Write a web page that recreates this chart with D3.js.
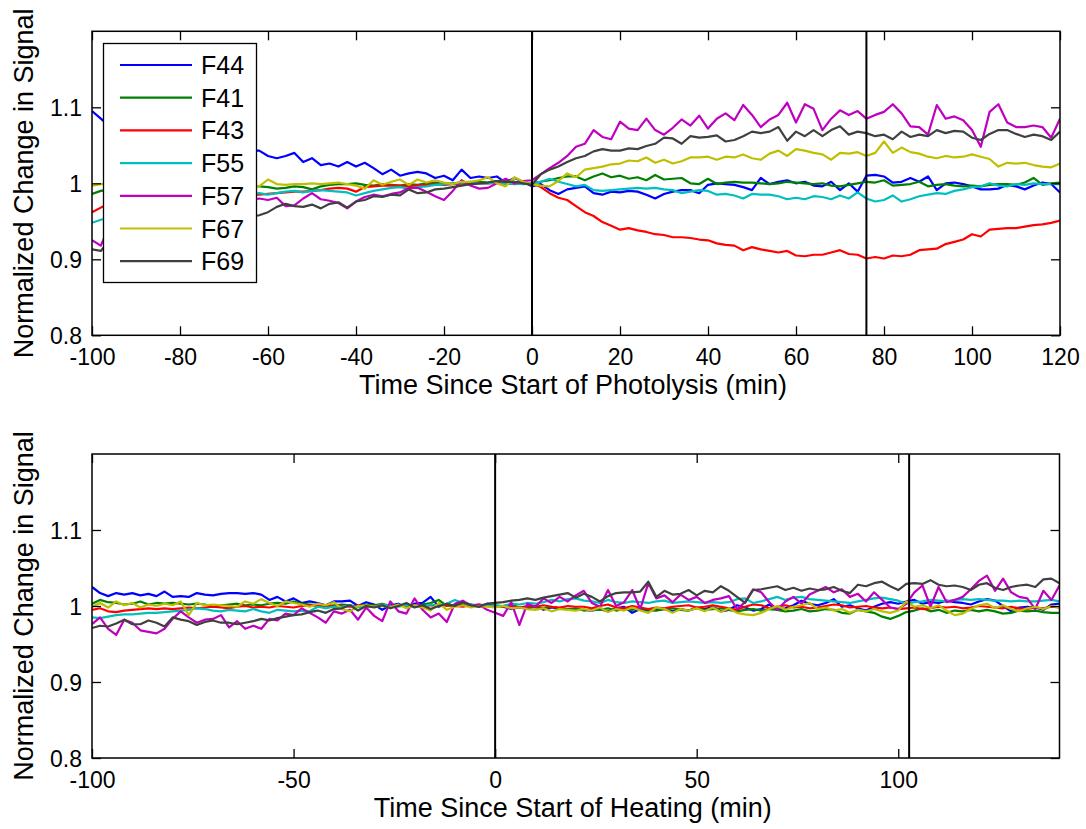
<!DOCTYPE html>
<html>
<head>
<meta charset="utf-8">
<script src="https://cdn.jsdelivr.net/npm/d3@7"></script>
<style>
  html, body { margin: 0; padding: 0; background: #fff; }
  svg { display: block; }
  text { font-family: "Liberation Sans", Arial, Helvetica, sans-serif; fill: #000; }
</style>
</head>
<body>
<svg id="chart" width="1086" height="829"></svg>
<script>
// ---------------- data ----------------
const seriesNames = ["F44", "F41", "F43", "F55", "F57", "F67", "F69"];
const seriesColors = ["#0000ff", "#008000", "#ff0000", "#00bfbf", "#bf00bf", "#bfbf00", "#404040"];

// top panel: sample times -100 .. 120 every 2 min
const timeTop = d3.range(-100, 121, 2);
// bottom panel: sample times -100 .. 140 every 2 min
const timeBottom = d3.range(-100, 141, 2);

const xTicksTop = [-100, -80, -60, -40, -20, 0, 20, 40, 60, 80, 100, 120];
const xTicksBottom = [-100, -50, 0, 50, 100];
const yTicks = [0.8, 0.9, 1.0, 1.1];
const yTickLabels = ["0.8", "0.9", "1", "1.1"];
const eventsTop = [0, 76];
const eventsBottom = [0, 102.7];

const F44_top = [1.095,1.085,1.075,1.070,1.066,1.062,1.060,1.057,1.055,1.053,1.052,1.050,1.049,1.048,1.047,1.046,1.045,1.044,1.043,1.043,1.036,1.033,1.036,1.040,1.028,1.033,1.024,1.026,1.022,1.028,1.022,1.027,1.020,1.012,1.018,1.010,1.013,1.015,1.013,1.007,1.010,1.004,1.018,1.007,1.009,1.007,1.009,1.001,1.007,1.002,0.996,0.999,0.991,0.986,0.992,0.994,0.996,0.987,0.985,0.989,0.988,0.990,0.989,0.985,0.980,0.986,0.989,0.991,0.991,0.987,0.998,1.000,0.999,0.998,0.995,0.991,1.007,0.999,1.002,1.004,1.000,1.002,0.997,0.996,1.002,0.991,1.000,0.989,1.010,1.011,1.009,1.001,1.002,1.007,1.002,1.009,0.991,1.000,1.001,0.999,0.996,0.992,0.992,0.993,0.998,0.996,0.992,0.997,1.001,0.999,0.988];
const F41_top = [0.986,0.990,0.992,0.993,0.992,0.994,0.993,0.995,0.994,0.995,0.994,0.996,0.995,0.996,0.995,0.996,0.995,0.996,0.996,0.996,0.995,0.993,0.994,0.996,0.995,0.992,0.996,0.998,0.999,0.999,1.000,0.998,0.997,0.999,0.998,0.997,0.999,0.998,1.000,1.001,0.999,1.000,1.001,1.000,1.002,1.001,1.003,1.004,1.002,1.001,1.000,1.002,1.004,1.007,1.009,1.009,1.004,1.009,1.013,1.008,1.010,1.006,1.008,1.004,1.011,1.005,1.006,1.007,1.000,0.999,1.006,0.999,1.001,1.002,1.001,1.001,1.000,0.999,1.000,1.002,1.001,1.000,0.999,1.000,0.997,0.996,0.998,1.000,1.002,1.001,1.004,0.997,0.998,0.999,1.002,0.996,0.998,0.999,0.997,0.996,0.997,0.996,0.998,0.999,0.999,0.998,1.001,1.007,0.998,1.000,1.001];
const F43_top = [0.962,0.968,0.974,0.976,0.978,0.979,0.980,0.981,0.982,0.982,0.983,0.983,0.984,0.984,0.985,0.985,0.985,0.985,0.985,0.985,0.986,0.987,0.988,0.989,0.989,0.990,0.991,0.993,0.994,0.993,0.989,0.995,0.996,0.997,0.997,0.997,0.996,0.997,0.998,0.999,0.998,0.999,1.000,0.999,1.000,1.000,1.001,1.000,0.999,1.000,1.000,0.995,0.987,0.981,0.978,0.970,0.962,0.957,0.949,0.944,0.939,0.941,0.938,0.936,0.933,0.932,0.929,0.929,0.928,0.926,0.925,0.921,0.919,0.918,0.912,0.916,0.913,0.911,0.909,0.911,0.905,0.904,0.906,0.906,0.909,0.912,0.907,0.906,0.901,0.903,0.901,0.905,0.904,0.906,0.912,0.913,0.914,0.920,0.923,0.926,0.933,0.930,0.939,0.940,0.941,0.941,0.943,0.945,0.946,0.948,0.951];
const F55_top = [0.948,0.952,0.955,0.958,0.960,0.963,0.965,0.967,0.969,0.970,0.972,0.974,0.975,0.977,0.978,0.980,0.982,0.984,0.986,0.987,0.985,0.987,0.989,0.990,0.988,0.990,0.991,0.990,0.989,0.988,0.984,0.987,0.990,0.992,0.994,0.995,0.993,0.995,0.996,0.998,0.999,1.000,1.001,1.002,1.000,1.000,1.001,0.999,1.000,0.999,1.000,1.002,1.006,1.002,0.999,0.996,0.998,0.991,0.990,0.991,0.992,0.993,0.994,0.993,0.994,0.992,0.991,0.987,0.989,0.991,0.990,0.985,0.986,0.984,0.980,0.986,0.985,0.985,0.983,0.979,0.981,0.979,0.983,0.982,0.979,0.984,0.980,0.988,0.980,0.976,0.978,0.984,0.976,0.979,0.983,0.985,0.987,0.986,0.990,0.992,0.995,0.996,1.000,0.997,0.996,0.999,0.998,1.000,0.999,0.999,0.999];
const F57_top = [0.925,0.918,0.945,0.948,0.952,0.955,0.957,0.960,0.962,0.963,0.965,0.967,0.968,0.970,0.972,0.973,0.974,0.976,0.978,0.980,0.978,0.981,0.970,0.971,0.980,0.987,0.979,0.977,0.974,0.967,0.976,0.982,0.985,0.983,0.986,0.988,0.994,0.994,0.989,0.983,0.978,0.990,1.004,0.997,0.993,0.994,1.000,1.006,1.000,1.003,1.004,1.012,1.020,1.027,1.036,1.048,1.052,1.070,1.061,1.058,1.081,1.072,1.070,1.085,1.070,1.064,1.073,1.084,1.076,1.089,1.072,1.085,1.092,1.083,1.103,1.090,1.074,1.084,1.090,1.106,1.080,1.104,1.098,1.070,1.085,1.096,1.090,1.095,1.085,1.090,1.094,1.104,1.092,1.075,1.074,1.064,1.103,1.085,1.088,1.083,1.070,1.048,1.094,1.104,1.080,1.074,1.074,1.076,1.074,1.060,1.085];
const F67_top = [0.997,0.999,1.000,1.001,1.000,0.999,1.000,1.001,1.000,0.999,1.000,1.001,1.000,0.999,1.000,1.001,1.000,0.999,0.998,0.996,1.005,0.999,0.998,0.999,0.999,1.000,0.999,1.000,1.001,0.999,0.997,0.993,1.004,0.998,1.002,1.005,0.998,1.005,1.001,1.004,1.001,0.999,1.002,1.002,1.004,1.008,1.000,0.996,1.008,1.002,0.999,0.997,0.996,1.003,1.013,1.008,1.018,1.020,1.022,1.025,1.026,1.030,1.029,1.034,1.027,1.031,1.026,1.029,1.034,1.034,1.035,1.031,1.035,1.034,1.038,1.033,1.031,1.039,1.043,1.036,1.045,1.043,1.040,1.038,1.031,1.040,1.039,1.041,1.036,1.040,1.055,1.040,1.047,1.041,1.039,1.035,1.033,1.036,1.034,1.035,1.038,1.035,1.032,1.022,1.027,1.026,1.027,1.024,1.022,1.021,1.026];
const F69_top = [0.913,0.911,0.925,0.930,0.933,0.935,0.937,0.939,0.941,0.942,0.944,0.945,0.947,0.948,0.950,0.951,0.952,0.954,0.956,0.958,0.962,0.969,0.973,0.970,0.969,0.972,0.967,0.973,0.975,0.968,0.976,0.978,0.983,0.982,0.985,0.984,0.992,0.987,0.988,0.992,0.993,0.995,0.997,0.999,1.000,1.001,1.003,1.002,1.002,1.000,0.998,1.012,1.018,1.022,1.028,1.033,1.036,1.042,1.045,1.043,1.043,1.046,1.045,1.049,1.052,1.060,1.059,1.052,1.062,1.060,1.061,1.063,1.055,1.057,1.062,1.068,1.066,1.068,1.074,1.056,1.068,1.062,1.070,1.062,1.070,1.075,1.064,1.068,1.066,1.062,1.064,1.058,1.068,1.061,1.064,1.062,1.070,1.066,1.069,1.068,1.060,1.057,1.065,1.070,1.070,1.065,1.061,1.064,1.062,1.057,1.068];

const F44_bot = [1.025,1.017,1.013,1.017,1.015,1.017,1.014,1.016,1.013,1.019,1.012,1.013,1.012,1.017,1.015,1.014,1.016,1.017,1.017,1.016,1.017,1.015,1.008,1.012,1.006,1.010,1.004,1.006,1.004,1.001,1.006,1.006,1.007,1.000,1.005,1.002,0.995,1.001,1.003,0.998,1.003,1.004,1.012,0.999,1.003,1.000,1.005,1.002,0.999,1.003,1.000,0.999,0.996,0.998,0.996,1.000,0.995,0.998,0.997,0.996,0.995,0.995,0.994,0.996,0.993,0.997,0.999,0.991,0.996,0.994,0.995,0.996,0.993,0.996,0.994,0.998,0.996,0.999,0.993,0.995,1.001,0.998,0.994,0.996,1.002,0.995,0.997,1.001,1.007,1.003,1.001,1.004,1.009,0.999,1.001,0.997,0.994,0.999,1.003,1.005,1.003,1.006,1.008,1.003,1.005,1.004,1.007,1.005,1.004,1.002,1.006,1.009,1.007,1.000,0.993,0.998,0.999,0.998,0.995,1.002,1.003];
const F41_bot = [1.003,1.008,1.005,1.004,1.002,1.003,1.006,1.002,1.004,1.003,1.004,1.003,1.002,1.003,1.002,0.999,1.001,1.002,1.003,1.001,1.002,1.001,1.003,1.004,1.003,1.006,1.003,1.002,1.001,1.000,1.001,1.002,1.001,0.999,1.002,1.001,1.003,1.000,1.001,1.000,0.999,1.002,1.004,1.008,1.000,1.001,1.003,1.001,0.999,1.001,1.000,1.000,1.002,0.998,0.999,0.998,0.997,0.999,0.997,0.996,0.997,0.994,0.996,0.995,0.997,0.994,0.996,0.995,0.997,0.995,0.994,0.996,0.997,0.995,0.994,0.997,0.995,0.996,0.997,0.995,0.993,0.995,0.996,0.994,0.996,0.995,0.993,0.994,0.996,0.993,0.994,0.996,0.995,0.991,0.990,0.995,0.993,0.991,0.986,0.983,0.987,0.992,0.994,0.997,0.993,0.995,0.991,0.994,0.993,0.995,0.993,0.995,0.993,0.990,0.991,0.994,0.993,0.994,0.992,0.991,0.991];
const F43_bot = [0.995,0.997,0.993,0.992,0.994,0.995,0.996,0.997,0.996,0.997,0.996,0.997,0.998,0.997,0.998,0.999,0.998,0.997,0.999,1.000,0.998,0.999,0.998,1.000,0.999,0.998,1.000,1.001,1.000,1.001,0.999,1.000,0.999,1.001,0.999,1.000,1.001,0.999,1.000,1.002,1.000,0.999,1.001,1.000,1.001,1.000,0.999,1.001,1.002,1.001,1.001,0.999,1.000,0.998,1.000,0.999,1.001,0.999,0.998,1.000,0.999,0.999,0.997,1.000,1.002,0.998,0.997,1.000,0.998,0.996,0.998,0.997,0.999,1.000,1.001,0.998,0.999,1.001,0.999,0.997,0.995,0.999,1.002,1.001,0.997,0.999,1.001,0.998,0.999,0.997,0.998,1.000,1.002,1.001,0.998,0.999,1.000,0.998,0.997,0.998,0.996,0.997,0.998,0.996,0.997,0.999,0.998,0.999,0.997,0.998,1.000,0.999,0.998,0.997,0.999,0.997,0.996,0.998,0.997,0.999,0.998];
const F55_bot = [0.985,0.984,0.986,0.988,0.989,0.989,0.990,0.991,0.991,0.992,0.993,0.994,0.995,0.997,0.996,0.994,0.993,0.995,0.994,0.993,0.996,0.993,0.991,0.995,0.994,0.993,0.994,0.993,0.999,0.997,0.999,0.999,1.001,0.998,1.000,0.999,1.002,1.000,0.999,1.001,1.000,0.999,1.002,1.001,1.003,1.008,1.004,1.002,1.001,1.000,1.001,1.000,1.003,1.002,1.004,1.003,1.005,1.008,1.006,1.009,1.010,1.007,1.006,1.004,1.008,1.005,1.004,1.006,1.005,1.004,1.006,1.007,1.004,1.005,1.006,1.005,1.004,1.005,1.004,1.005,1.009,1.010,1.004,1.006,1.009,1.012,1.008,1.011,1.012,1.009,1.008,1.007,1.006,1.005,1.004,1.006,1.008,1.010,1.011,1.009,1.007,1.003,1.005,1.006,1.008,1.007,1.006,1.008,1.009,1.008,1.009,1.008,1.007,1.007,1.006,1.007,1.006,1.006,1.007,1.008,1.006];
const F57_bot = [0.976,0.985,0.970,0.962,0.982,0.978,0.968,0.966,0.964,0.970,0.983,0.993,0.985,0.978,0.982,0.983,0.988,0.972,0.980,0.970,0.974,0.970,0.983,0.981,0.990,0.988,0.997,0.991,0.985,0.978,0.993,0.990,0.995,0.982,0.998,0.987,0.980,1.006,0.993,0.990,1.010,0.995,0.985,0.990,0.979,1.003,1.007,1.000,1.002,0.995,0.991,0.987,1.005,0.975,1.003,0.999,1.010,1.004,1.012,1.006,1.014,1.020,1.004,0.999,1.021,1.000,1.005,1.021,0.996,1.030,1.010,1.014,1.005,1.015,1.008,1.012,1.004,1.008,1.010,1.013,0.996,1.005,1.022,1.018,1.005,0.995,1.006,1.012,1.003,1.015,1.020,1.025,1.018,1.022,1.012,1.016,1.006,1.018,1.008,0.998,0.996,1.003,1.018,1.027,0.999,1.025,1.005,1.008,1.012,1.022,1.033,1.040,1.020,1.036,1.018,1.012,1.010,0.996,1.020,1.008,1.027];
const F67_bot = [0.999,1.004,0.998,1.006,1.001,1.004,0.998,1.002,1.000,1.003,1.001,1.006,0.988,1.004,1.001,1.002,1.001,1.000,0.999,1.006,1.003,1.009,1.004,1.000,1.006,1.004,1.002,0.999,1.003,1.001,1.005,0.996,0.993,1.000,1.001,0.999,1.000,0.998,1.002,0.997,1.001,0.998,0.994,1.004,0.995,0.999,1.001,0.998,1.000,0.999,0.998,1.000,0.997,0.998,0.996,0.995,0.997,0.993,0.996,0.995,0.994,0.996,0.994,0.998,0.992,0.996,0.994,0.998,0.994,0.991,0.998,0.996,0.991,0.996,0.994,0.997,0.993,0.998,0.992,0.997,0.991,0.989,0.988,0.991,0.996,1.000,0.995,0.999,1.001,1.004,0.996,0.998,0.994,0.996,0.991,0.995,0.993,0.996,0.993,0.991,0.994,1.006,0.999,1.001,0.997,1.001,0.994,0.988,0.990,0.996,1.001,1.003,0.997,1.001,0.996,0.993,0.997,0.999,0.996,1.000,0.998];
const F69_bot = [0.971,0.974,0.973,0.977,0.982,0.976,0.976,0.981,0.978,0.973,0.985,0.982,0.980,0.975,0.979,0.981,0.978,0.978,0.976,0.978,0.980,0.983,0.981,0.984,0.986,0.988,0.989,0.992,0.994,0.991,0.996,0.997,1.001,0.994,1.000,0.998,1.001,0.997,1.000,1.004,0.998,1.001,0.996,1.000,1.003,1.000,1.005,1.001,0.999,1.003,1.004,1.005,1.007,1.008,1.010,1.008,1.011,1.013,1.015,1.017,1.011,1.016,1.012,1.006,1.013,1.017,1.018,1.018,1.019,1.032,1.012,1.020,1.015,1.016,1.021,1.014,1.020,1.018,1.026,1.020,1.012,1.004,1.021,1.022,1.024,1.026,1.021,1.024,1.020,1.023,1.021,1.022,1.025,1.020,1.017,1.028,1.026,1.030,1.032,1.026,1.021,1.029,1.030,1.029,1.034,1.028,1.026,1.027,1.025,1.021,1.028,1.030,1.024,1.021,1.025,1.027,1.028,1.025,1.035,1.036,1.030];

const topSeries = [F44_top, F41_top, F43_top, F55_top, F57_top, F67_top, F69_top];
const bottomSeries = [F44_bot, F41_bot, F43_bot, F55_bot, F57_bot, F67_bot, F69_bot];

// ---------------- drawing ----------------
const svg = d3.select("#chart");
svg.append("rect").attr("width", 1086).attr("height", 829).attr("fill", "#fff");

function drawPanel(opt) {
  const x = d3.scaleLinear().domain(opt.xDomain).range([opt.left, opt.right]);
  const y = d3.scaleLinear().domain([0.8, 1.2]).range([opt.bottom, opt.top]);
  const g = svg.append("g");
  const clipId = "clip" + opt.id;
  svg.append("clipPath").attr("id", clipId).append("rect")
    .attr("x", opt.left).attr("y", opt.top)
    .attr("width", opt.right - opt.left).attr("height", opt.bottom - opt.top);

  const line = d3.line().x((d) => x(d[0])).y((d) => y(d[1]));
  const dg = g.append("g").attr("clip-path", `url(#${clipId})`);
  opt.series.forEach((vals, i) => {
    const pts = opt.times.map((t, k) => [t, vals[k]]).filter((p) => p[1] != null);
    dg.append("path").datum(pts)
      .attr("d", line)
      .attr("fill", "none")
      .attr("stroke", seriesColors[i])
      .attr("stroke-width", 2.2)
      .attr("stroke-linejoin", "round");
  });

  // event lines
  opt.events.forEach((e) => {
    g.append("line")
      .attr("x1", x(e)).attr("x2", x(e))
      .attr("y1", opt.top).attr("y2", opt.bottom)
      .attr("stroke", "#000").attr("stroke-width", 2);
  });

  // axes (ticks inward, on all four sides)
  const tickLen = 9;
  const axB = d3.axisBottom(x).tickValues(opt.xTicks).tickSize(-tickLen).tickFormat((d) => String(d));
  const axT = d3.axisTop(x).tickValues(opt.xTicks).tickSize(-tickLen).tickFormat("");
  const axL = d3.axisLeft(y).tickValues(yTicks).tickSize(-tickLen)
    .tickFormat((d, i) => yTickLabels[i]);
  const axR = d3.axisRight(y).tickValues(yTicks).tickSize(-tickLen).tickFormat("");

  const gB = g.append("g").attr("transform", `translate(0,${opt.bottom})`).call(axB);
  const gT = g.append("g").attr("transform", `translate(0,${opt.top})`).call(axT);
  const gL = g.append("g").attr("transform", `translate(${opt.left},0)`).call(axL);
  const gR = g.append("g").attr("transform", `translate(${opt.right},0)`).call(axR);
  [gB, gT, gL, gR].forEach((a) => {
    a.select(".domain").remove();
    a.selectAll(".tick line").attr("stroke", "#000").attr("stroke-width", 1.3);
    a.selectAll(".tick text").style("font-size", "23px").attr("fill", "#000")
      .style("font-family", '"Liberation Sans", Arial, sans-serif');
  });
  gB.selectAll(".tick text").attr("dy", null).attr("y", 30);
  gL.selectAll(".tick text").attr("dy", "0.35em").attr("x", -10);

  // frame
  g.append("rect")
    .attr("x", opt.left).attr("y", opt.top)
    .attr("width", opt.right - opt.left).attr("height", opt.bottom - opt.top)
    .attr("fill", "none").attr("stroke", "#000").attr("stroke-width", 1.5);

  // labels
  g.append("text")
    .attr("x", (opt.left + opt.right) / 2 - 3)
    .attr("y", opt.bottom + 59)
    .attr("text-anchor", "middle")
    .style("font-size", "27px")
    .text(opt.xLabel);
  g.append("text")
    .attr("transform", `translate(33,${(opt.top + opt.bottom) / 2}) rotate(-90)`)
    .attr("text-anchor", "middle")
    .style("font-size", "27px")
    .text("Normalized Change in Signal");

  return { x, y, g };
}

drawPanel({
  id: "top", left: 92, right: 1060, top: 31.3, bottom: 335.3,
  xDomain: [-100, 120], xTicks: xTicksTop, times: timeTop, series: topSeries,
  events: eventsTop, xLabel: "Time Since Start of Photolysis (min)"
});
drawPanel({
  id: "bot", left: 92, right: 1059.5, top: 454, bottom: 758,
  xDomain: [-100, 140], xTicks: xTicksBottom, times: timeBottom, series: bottomSeries,
  events: eventsBottom, xLabel: "Time Since Start of Heating (min)"
});

// legend (top panel)
const lg = svg.append("g");
lg.append("rect").attr("x", 103.5).attr("y", 43.5).attr("width", 153).attr("height", 239)
  .attr("fill", "#fff").attr("stroke", "#000").attr("stroke-width", 1.3);
seriesNames.forEach((name, i) => {
  const cy = 65 + i * 32.7;
  lg.append("line").attr("x1", 120).attr("x2", 192).attr("y1", cy).attr("y2", cy)
    .attr("stroke", seriesColors[i]).attr("stroke-width", 2.2);
  lg.append("text").attr("x", 201).attr("y", cy).attr("dy", "0.36em")
    .style("font-size", "25px").text(name);
});
</script>
</body>
</html>
